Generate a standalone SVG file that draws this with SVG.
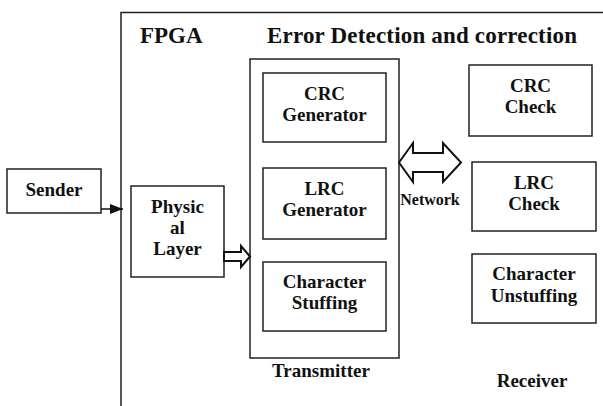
<svg xmlns="http://www.w3.org/2000/svg" width="603" height="406" viewBox="0 0 603 406">
<style>
.box{fill:#fff;stroke:#222;stroke-width:1.5}
.t{font-family:"Liberation Serif","Times New Roman",serif;font-weight:bold;font-size:19px;fill:#111;text-anchor:middle}
.h{font-family:"Liberation Serif","Times New Roman",serif;font-weight:bold;font-size:23px;fill:#111}
.ln{fill:none;stroke:#222;stroke-width:1.5}
.hollow{fill:#fff;stroke:#111;stroke-width:2;stroke-linejoin:miter}
</style>
<defs>
<marker id="ah" markerWidth="13" markerHeight="10" refX="13" refY="5" orient="auto" markerUnits="userSpaceOnUse">
<path d="M0,0 L13,5 L0,10 z" fill="#111"/>
</marker>
</defs>
<rect width="603" height="406" fill="#fff"/>
<g id="fpga">
<path class="ln" d="M121,406 V12.5 H603"/>
<text class="h" x="140" y="43">FPGA</text>
<text class="h" x="267" y="43" textLength="310">Error Detection and correction</text>
</g>
<g id="sender">
<rect class="box" x="7" y="169" width="94" height="44"/>
<text class="t" x="54" y="196">Sender</text>
</g>
<g id="physical-layer">
<rect class="box" x="131" y="186" width="93" height="91"/>
<text class="t" x="177.5" y="213">Physic</text>
<text class="t" x="177.5" y="234">al</text>
<text class="t" x="177.5" y="255">Layer</text>
</g>
<g id="transmitter">
<rect class="box" x="250" y="59" width="149" height="299"/>
<text class="t" x="321" y="377">Transmitter</text>
</g>
<g id="crc-generator">
<rect class="box" x="263" y="73" width="123" height="69"/>
<text class="t" x="324.5" y="100">CRC</text>
<text class="t" x="324.5" y="121">Generator</text>
</g>
<g id="lrc-generator">
<rect class="box" x="263" y="168" width="123" height="71"/>
<text class="t" x="324.5" y="195">LRC</text>
<text class="t" x="324.5" y="216">Generator</text>
</g>
<g id="character-stuffing">
<rect class="box" x="263" y="262" width="123" height="69"/>
<text class="t" x="324.5" y="288">Character</text>
<text class="t" x="324.5" y="309">Stuffing</text>
</g>
<g id="crc-check">
<rect class="box" x="469" y="65" width="123" height="71"/>
<text class="t" x="530.5" y="92">CRC</text>
<text class="t" x="530.5" y="113">Check</text>
</g>
<g id="lrc-check">
<rect class="box" x="472" y="162" width="124" height="69"/>
<text class="t" x="534" y="189">LRC</text>
<text class="t" x="534" y="210">Check</text>
</g>
<g id="character-unstuffing">
<rect class="box" x="472" y="254" width="124" height="69"/>
<text class="t" x="534" y="280">Character</text>
<text class="t" x="534" y="302">Unstuffing</text>
</g>
<g id="receiver">
<text class="t" x="532" y="387">Receiver</text>
</g>
<g id="connectors">
<line x1="101" y1="209" x2="123" y2="209" stroke="#111" stroke-width="1.5" marker-end="url(#ah)"/>
<path class="hollow" d="M224,252 H241 V246 L250,256.5 L241,267 V261 H224 z"/>
<path class="hollow" d="M399,162.5 L413,143 V153 H443 V143 L461,162.5 L443,182 V172 H413 V182 z"/>
<text class="t" x="430" y="205" style="font-size:16px">Network</text>
</g>
</svg>
